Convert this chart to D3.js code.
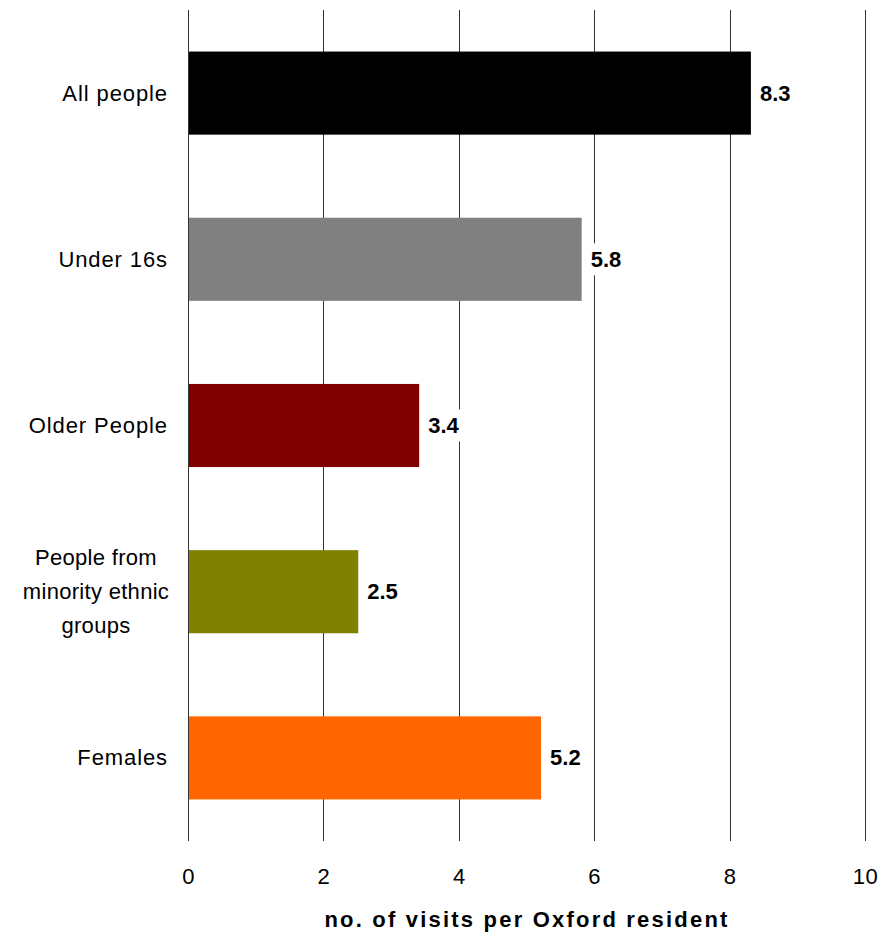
<!DOCTYPE html>
<html>
<head>
<meta charset="utf-8">
<script src="https://cdn.jsdelivr.net/npm/d3@7"></script>
<style>
  body { margin: 0; background: #fff; }
  svg { display: block; font-family: "Liberation Sans", Arial, sans-serif; }
</style>
</head>
<body>
<svg id="chart" width="881" height="940"></svg>
<script>
const categories = ["All people", "Under 16s", "Older People", "People from minority ethnic groups", "Females"];
const categoryLines = [["All people"], ["Under 16s"], ["Older People"], ["People from", "minority ethnic", "groups"], ["Females"]];
const values = [8.3, 5.8, 3.4, 2.5, 5.2];
const colors = ["#000000", "#808080", "#800000", "#808000", "#FF6600"];
const tickValues = [0, 2, 4, 6, 8, 10];
const axisTitle = "no. of visits per Oxford resident";

(function () {
  const svg = d3.select("#chart");
  const plotLeft = 188, plotRight = 865, plotTop = 10, plotBottom = 841;
  const fs = 22;

  const x = d3.scaleLinear().domain([0, 10]).range([plotLeft, plotRight]);
  const y = d3.scaleBand().domain(categories).range([plotTop, plotBottom]).paddingInner(0.5).paddingOuter(0.25);

  // vertical gridlines
  svg.append("g").selectAll("line").data(tickValues).join("line")
    .attr("x1", d => Math.round(x(d)) + 0.5).attr("x2", d => Math.round(x(d)) + 0.5)
    .attr("y1", plotTop).attr("y2", plotBottom)
    .attr("stroke", "#333").attr("stroke-width", 1);

  // bars
  svg.append("g").selectAll("rect").data(values).join("rect")
    .attr("x", x(0) + 1)
    .attr("y", (d, i) => y(categories[i]))
    .attr("width", d => x(d) - x(0))
    .attr("height", y.bandwidth())
    .attr("fill", (d, i) => colors[i]);

  // value labels on a white backing
  const vl = svg.append("g").selectAll("g").data(values).join("g")
    .attr("transform", (d, i) => `translate(${x(d) + 10},${y(categories[i]) + y.bandwidth() / 2})`);
  vl.append("rect").attr("x", -5).attr("y", -16).attr("width", 46).attr("height", 32).attr("fill", "#fff");
  vl.append("text")
    .attr("y", 7.5)
    .attr("font-size", fs).attr("font-weight", "bold").attr("fill", "#000")
    .text(d => d.toFixed(1));

  // category labels (single lines right-aligned, wrapped labels centred)
  const cl = svg.append("g").selectAll("text").data(categoryLines).join("text")
    .attr("font-size", fs)
    .attr("letter-spacing", d => d.length > 1 ? "0.3px" : "0.9px")
    .attr("fill", "#000");
  cl.each(function (lines, i) {
    const cy = y(categories[i]) + y.bandwidth() / 2;
    const lh = 34;
    const t = d3.select(this);
    lines.forEach((ln, j) => {
      t.append("tspan")
        .attr("x", lines.length > 1 ? 96 : 168)
        .attr("text-anchor", lines.length > 1 ? "middle" : "end")
        .attr("y", cy + (j - (lines.length - 1) / 2) * lh + 7.5)
        .text(ln);
    });
  });

  // x axis tick labels
  const axis = d3.axisBottom(x).tickValues(tickValues).tickSize(0).tickPadding(0).tickFormat(d3.format("d"));
  const ag = svg.append("g").attr("transform", `translate(0,${plotBottom + 43})`).call(axis);
  ag.select(".domain").remove();
  ag.selectAll("text").attr("dy", null).attr("y", 0)
    .attr("font-size", fs).attr("fill", "#000").attr("letter-spacing", "0.5px")
    .attr("font-family", "Liberation Sans, Arial, sans-serif");

  // axis title
  svg.append("text")
    .attr("x", 527).attr("y", 927)
    .attr("text-anchor", "middle")
    .attr("font-size", fs).attr("font-weight", "bold").attr("letter-spacing", "2.2px")
    .text(axisTitle);
})();
</script>
</body>
</html>
